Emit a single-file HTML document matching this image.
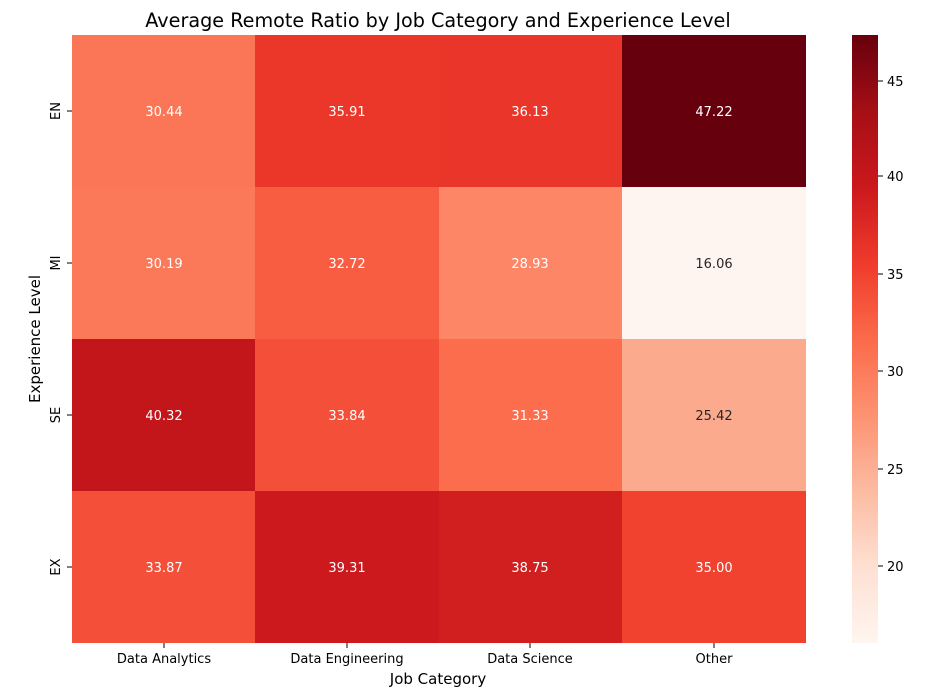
<!DOCTYPE html>
<html><head><meta charset="utf-8"><style>body{margin:0;background:#fff}svg{display:block;font-family:"DejaVu Sans","Liberation Sans",sans-serif}</style></head><body>
<svg width="930" height="699" xmlns="http://www.w3.org/2000/svg">
<defs><linearGradient id="g" x1="0" y1="1" x2="0" y2="0">
<stop offset="0" stop-color="#fff5f0"/><stop offset="0.125" stop-color="#fee0d2"/><stop offset="0.25" stop-color="#fcbba1"/><stop offset="0.375" stop-color="#fc9272"/><stop offset="0.5" stop-color="#fb6a4a"/><stop offset="0.625" stop-color="#ef3b2c"/><stop offset="0.75" stop-color="#cb181d"/><stop offset="0.875" stop-color="#a50f15"/><stop offset="1" stop-color="#67000d"/></linearGradient></defs>
<text x="438" y="27" font-size="19.2" text-anchor="middle" fill="#000">Average Remote Ratio by Job Category and Experience Level</text>
<g shape-rendering="crispEdges">
<rect x="72" y="35" width="184" height="152" fill="#fb7656"/><rect x="255" y="35" width="184" height="152" fill="#eb372a"/><rect x="439" y="35" width="184" height="152" fill="#ea362a"/><rect x="622" y="35" width="184" height="152" fill="#67000d"/>
<rect x="72" y="187" width="184" height="152" fill="#fb7959"/><rect x="255" y="187" width="184" height="152" fill="#f85d42"/><rect x="439" y="187" width="184" height="152" fill="#fc8666"/><rect x="622" y="187" width="184" height="152" fill="#fff5f0"/>
<rect x="72" y="339" width="184" height="152" fill="#c2161b"/><rect x="255" y="339" width="184" height="152" fill="#f45039"/><rect x="439" y="339" width="184" height="152" fill="#fb6d4d"/><rect x="622" y="339" width="184" height="152" fill="#fcaa8e"/>
<rect x="72" y="491" width="184" height="152" fill="#f44f39"/><rect x="255" y="491" width="184" height="152" fill="#cc191e"/><rect x="439" y="491" width="184" height="152" fill="#d11e1f"/><rect x="622" y="491" width="184" height="152" fill="#f14230"/>
<rect x="852" y="35" width="26" height="608" fill="url(#g)"/>
</g>
<g font-size="13" text-anchor="middle" fill="#fff">
<text x="164" y="116">30.44</text><text x="347" y="116">35.91</text><text x="530" y="116">36.13</text><text x="714" y="116">47.22</text>
<text x="164" y="268">30.19</text><text x="347" y="268">32.72</text><text x="530" y="268">28.93</text><text x="714" y="268" fill="#262626">16.06</text>
<text x="164" y="420">40.32</text><text x="347" y="420">33.84</text><text x="530" y="420">31.33</text><text x="714" y="420" fill="#262626">25.42</text>
<text x="164" y="572">33.87</text><text x="347" y="572">39.31</text><text x="530" y="572">38.75</text><text x="714" y="572">35.00</text>
</g>
<g stroke="#000" stroke-width="1">
<line x1="164" y1="643" x2="164" y2="648"/><line x1="347" y1="643" x2="347" y2="648"/><line x1="530" y1="643" x2="530" y2="648"/><line x1="714" y1="643" x2="714" y2="648"/>
<line x1="67" y1="111" x2="72" y2="111"/><line x1="67" y1="263" x2="72" y2="263"/><line x1="67" y1="415" x2="72" y2="415"/><line x1="67" y1="567" x2="72" y2="567"/>
<line x1="878" y1="81" x2="883" y2="81"/><line x1="878" y1="176" x2="883" y2="176"/><line x1="878" y1="274" x2="883" y2="274"/><line x1="878" y1="371" x2="883" y2="371"/><line x1="878" y1="469" x2="883" y2="469"/><line x1="878" y1="566" x2="883" y2="566"/>
</g>
<g font-size="13" fill="#000">
<text x="164" y="663" text-anchor="middle">Data Analytics</text><text x="347" y="663" text-anchor="middle">Data Engineering</text><text x="530" y="663" text-anchor="middle">Data Science</text><text x="714" y="663" text-anchor="middle">Other</text>
<text x="438" y="684" text-anchor="middle" font-size="15">Job Category</text>
<text transform="translate(60,111) rotate(-90)" text-anchor="middle">EN</text>
<text transform="translate(60,263) rotate(-90)" text-anchor="middle">MI</text>
<text transform="translate(60,415) rotate(-90)" text-anchor="middle">SE</text>
<text transform="translate(60,567) rotate(-90)" text-anchor="middle">EX</text>
<text transform="translate(40,339) rotate(-90)" text-anchor="middle" font-size="15">Experience Level</text>
<text x="887" y="86">45</text><text x="887" y="181">40</text><text x="887" y="279">35</text><text x="887" y="376">30</text><text x="887" y="474">25</text><text x="887" y="571">20</text>
</g>
</svg>
</body></html>
